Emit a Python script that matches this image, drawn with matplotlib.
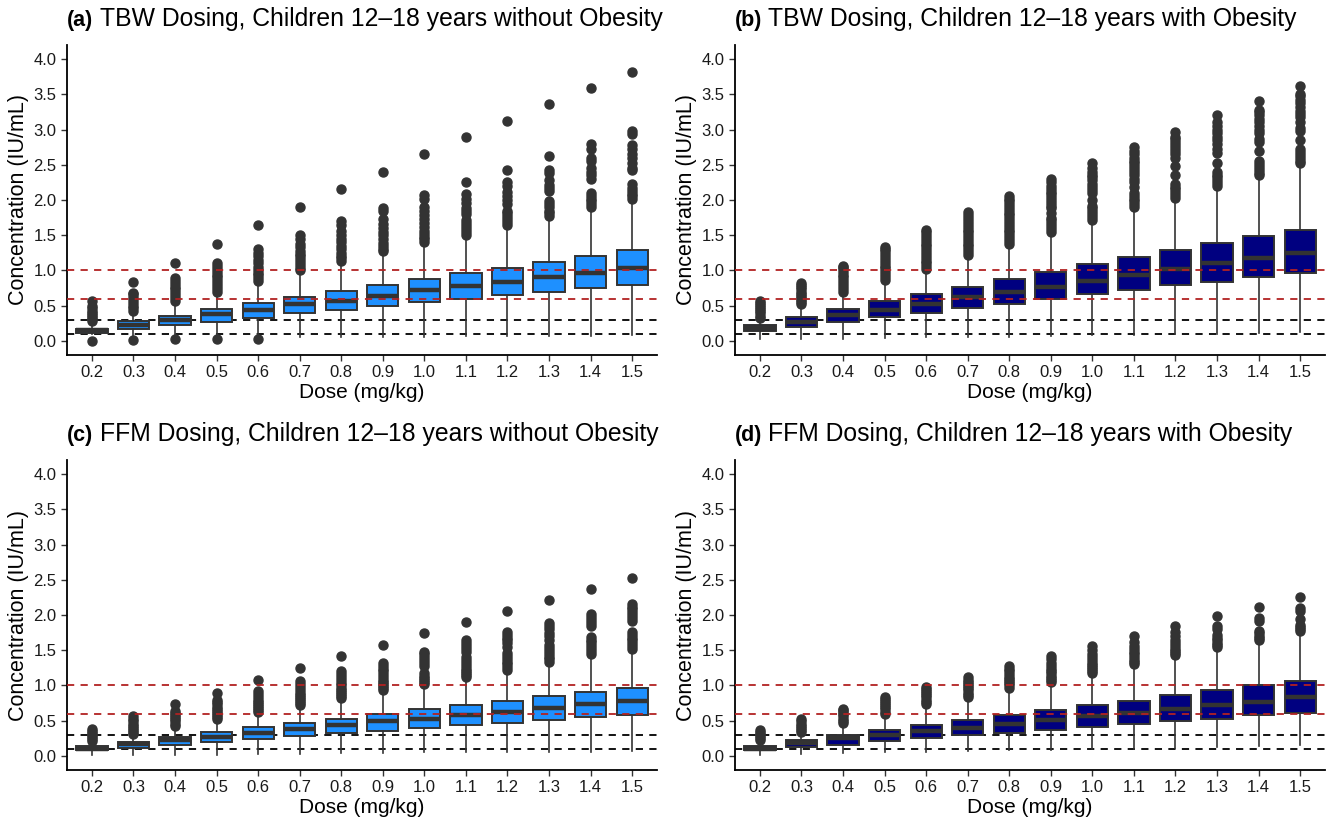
import matplotlib
matplotlib.use("Agg")
import matplotlib.pyplot as plt

plt.rcParams['font.family'] = ['Liberation Sans', 'DejaVu Sans']

# dawki (oś x)
doses = ["0.2", "0.3", "0.4", "0.5", "0.6", "0.7", "0.8", "0.9", "1.0", "1.1", "1.2", "1.3", "1.4", "1.5"]

# --- (a) TBW, bez otyłości ---
a_q1 = [0.11, 0.17, 0.22, 0.27, 0.33, 0.39, 0.44, 0.50, 0.55, 0.60, 0.65, 0.70, 0.75, 0.80]
a_med = [0.15, 0.23, 0.30, 0.38, 0.44, 0.52, 0.57, 0.64, 0.72, 0.78, 0.84, 0.91, 0.97, 1.03]
a_q3 = [0.17, 0.28, 0.36, 0.45, 0.54, 0.62, 0.71, 0.80, 0.88, 0.96, 1.04, 1.12, 1.21, 1.29]
a_lo = [0.10, 0.07, 0.06, 0.05, 0.05, 0.05, 0.05, 0.05, 0.06, 0.07, 0.07, 0.07, 0.07, 0.08]
a_hi = [0.26, 0.40, 0.55, 0.68, 0.83, 0.97, 1.10, 1.25, 1.38, 1.50, 1.63, 1.75, 1.88, 2.00]
a_out = [
    [0.0, 0.28, 0.31, 0.34, 0.37, 0.40, 0.43, 0.46, 0.50, 0.57],
    [0.01, 0.42, 0.46, 0.50, 0.54, 0.58, 0.62, 0.66, 0.68, 0.84],
    [0.02, 0.57, 0.61, 0.65, 0.69, 0.73, 0.77, 0.81, 0.85, 0.89, 1.11],
    [0.02, 0.70, 0.74, 0.78, 0.82, 0.86, 0.90, 0.94, 0.98, 1.02, 1.06, 1.10, 1.38],
    [0.03, 0.85, 0.89, 0.93, 0.97, 1.01, 1.05, 1.10, 1.15, 1.20, 1.25, 1.30, 1.64],
    [1.00, 1.04, 1.08, 1.12, 1.16, 1.20, 1.24, 1.28, 1.33, 1.38, 1.45, 1.50, 1.90],
    [1.13, 1.17, 1.21, 1.25, 1.30, 1.35, 1.40, 1.45, 1.50, 1.56, 1.65, 1.70, 2.15],
    [1.27, 1.31, 1.35, 1.39, 1.44, 1.50, 1.55, 1.60, 1.66, 1.73, 1.85, 1.88, 2.40],
    [1.40, 1.44, 1.48, 1.52, 1.56, 1.62, 1.67, 1.73, 1.78, 1.84, 1.90, 2.02, 2.07, 2.65],
    [1.51, 1.55, 1.59, 1.63, 1.67, 1.71, 1.80, 1.84, 1.88, 1.96, 2.02, 2.08, 2.25, 2.89],
    [1.65, 1.69, 1.73, 1.77, 1.81, 1.85, 1.95, 2.00, 2.06, 2.12, 2.20, 2.25, 2.43, 3.12],
    [1.77, 1.81, 1.85, 1.90, 1.94, 1.98, 2.13, 2.17, 2.21, 2.28, 2.38, 2.43, 2.62, 3.36],
    [1.90, 1.94, 1.98, 2.02, 2.06, 2.10, 2.30, 2.35, 2.40, 2.45, 2.55, 2.60, 2.72, 2.80, 3.59],
    [2.01, 2.05, 2.09, 2.13, 2.17, 2.22, 2.42, 2.46, 2.52, 2.60, 2.65, 2.72, 2.78, 2.93, 2.98, 3.82],
]

# --- (b) TBW, z otyłością ---
b_q1 = [0.14, 0.20, 0.27, 0.34, 0.40, 0.47, 0.53, 0.60, 0.66, 0.72, 0.79, 0.84, 0.90, 0.96]
b_med = [0.18, 0.27, 0.37, 0.44, 0.53, 0.62, 0.69, 0.77, 0.85, 0.94, 1.02, 1.10, 1.17, 1.25]
b_q3 = [0.23, 0.34, 0.45, 0.56, 0.67, 0.77, 0.88, 0.98, 1.09, 1.19, 1.29, 1.39, 1.49, 1.58]
b_lo = [0.02, 0.02, 0.03, 0.04, 0.05, 0.05, 0.06, 0.07, 0.08, 0.09, 0.10, 0.10, 0.11, 0.12]
b_hi = [0.31, 0.50, 0.68, 0.85, 1.00, 1.20, 1.37, 1.53, 1.70, 1.88, 2.02, 2.18, 2.33, 2.50]
b_out = [
    [0.33, 0.36, 0.39, 0.42, 0.45, 0.48, 0.51, 0.54, 0.57],
    [0.52, 0.55, 0.58, 0.61, 0.64, 0.67, 0.70, 0.73, 0.76, 0.79, 0.82],
    [0.70, 0.74, 0.78, 0.82, 0.86, 0.90, 0.94, 0.98, 1.02, 1.05, 1.07],
    [0.87, 0.91, 0.95, 0.99, 1.03, 1.07, 1.11, 1.15, 1.19, 1.23, 1.27, 1.30, 1.33],
    [1.02, 1.06, 1.10, 1.14, 1.18, 1.22, 1.26, 1.30, 1.34, 1.38, 1.42, 1.46, 1.50, 1.54, 1.58],
    [1.22, 1.26, 1.30, 1.34, 1.38, 1.42, 1.46, 1.50, 1.54, 1.58, 1.62, 1.66, 1.70, 1.74, 1.78, 1.83],
    [1.38, 1.42, 1.46, 1.50, 1.54, 1.58, 1.62, 1.66, 1.70, 1.74, 1.78, 1.82, 1.86, 1.90, 1.94, 1.98, 2.02, 2.06],
    [1.55, 1.59, 1.63, 1.67, 1.71, 1.75, 1.82, 1.88, 1.92, 1.96, 2.00, 2.04, 2.08, 2.12, 2.16, 2.20, 2.25, 2.30],
    [1.72, 1.76, 1.80, 1.84, 1.88, 1.92, 2.00, 2.10, 2.14, 2.18, 2.22, 2.28, 2.32, 2.36, 2.40, 2.45, 2.52],
    [1.90, 1.94, 1.98, 2.02, 2.06, 2.10, 2.18, 2.25, 2.30, 2.35, 2.40, 2.44, 2.48, 2.52, 2.56, 2.60, 2.65, 2.70, 2.75],
    [2.03, 2.07, 2.11, 2.15, 2.19, 2.23, 2.35, 2.48, 2.60, 2.65, 2.70, 2.74, 2.78, 2.82, 2.86, 2.90, 2.97],
    [2.20, 2.24, 2.28, 2.32, 2.36, 2.40, 2.52, 2.67, 2.72, 2.80, 2.85, 2.90, 2.95, 3.00, 3.05, 3.10, 3.20],
    [2.35, 2.39, 2.43, 2.47, 2.51, 2.55, 2.70, 2.82, 2.86, 2.95, 3.00, 3.05, 3.10, 3.15, 3.20, 3.25, 3.28, 3.40],
    [2.52, 2.56, 2.60, 2.64, 2.68, 2.72, 2.85, 2.98, 3.02, 3.10, 3.18, 3.22, 3.27, 3.32, 3.37, 3.42, 3.47, 3.50, 3.62],
]

# --- (c) FFM, bez otyłości ---
c_q1 = [0.08, 0.11, 0.16, 0.20, 0.24, 0.28, 0.32, 0.355, 0.40, 0.44, 0.47, 0.51, 0.55, 0.585]
c_med = [0.10, 0.17, 0.22, 0.27, 0.33, 0.38, 0.435, 0.49, 0.53, 0.58, 0.62, 0.68, 0.73, 0.78]
c_q3 = [0.14, 0.20, 0.27, 0.34, 0.41, 0.47, 0.53, 0.60, 0.66, 0.72, 0.785, 0.85, 0.91, 0.97]
c_lo = [0.01, 0.02, 0.02, 0.02, 0.03, 0.03, 0.04, 0.04, 0.05, 0.05, 0.05, 0.06, 0.06, 0.07]
c_hi = [0.20, 0.30, 0.42, 0.50, 0.60, 0.70, 0.80, 0.91, 1.00, 1.10, 1.20, 1.30, 1.42, 1.50]
c_out = [
    [0.21, 0.24, 0.27, 0.30, 0.33, 0.36, 0.38],
    [0.31, 0.34, 0.37, 0.40, 0.43, 0.46, 0.49, 0.52, 0.56],
    [0.43, 0.46, 0.49, 0.52, 0.55, 0.58, 0.61, 0.64, 0.73],
    [0.52, 0.55, 0.58, 0.61, 0.64, 0.67, 0.70, 0.73, 0.76, 0.79, 0.90],
    [0.62, 0.65, 0.68, 0.71, 0.74, 0.77, 0.80, 0.84, 0.88, 0.92, 1.08],
    [0.72, 0.75, 0.78, 0.81, 0.84, 0.87, 0.90, 0.94, 0.98, 1.02, 1.06, 1.25],
    [0.82, 0.85, 0.88, 0.91, 0.94, 0.97, 1.00, 1.04, 1.08, 1.12, 1.16, 1.20, 1.42],
    [0.93, 0.96, 0.99, 1.02, 1.05, 1.08, 1.12, 1.16, 1.20, 1.24, 1.28, 1.32, 1.58],
    [1.02, 1.05, 1.08, 1.11, 1.14, 1.17, 1.28, 1.32, 1.36, 1.40, 1.44, 1.48, 1.75],
    [1.12, 1.15, 1.18, 1.21, 1.24, 1.28, 1.32, 1.36, 1.40, 1.48, 1.52, 1.56, 1.60, 1.64, 1.90],
    [1.22, 1.26, 1.30, 1.34, 1.38, 1.42, 1.46, 1.55, 1.60, 1.64, 1.68, 1.72, 1.76, 2.06],
    [1.33, 1.37, 1.41, 1.45, 1.49, 1.53, 1.57, 1.65, 1.70, 1.75, 1.80, 1.84, 1.88, 2.22],
    [1.45, 1.49, 1.53, 1.57, 1.61, 1.65, 1.69, 1.85, 1.89, 1.93, 1.97, 2.01, 2.37],
    [1.52, 1.56, 1.60, 1.64, 1.68, 1.72, 1.76, 1.92, 1.96, 2.00, 2.04, 2.08, 2.12, 2.16, 2.52],
]

# --- (d) FFM, z otyłością ---
d_q1 = [0.08, 0.12, 0.16, 0.21, 0.25, 0.29, 0.33, 0.37, 0.41, 0.45, 0.49, 0.53, 0.575, 0.61]
d_med = [0.10, 0.18, 0.25, 0.29, 0.35, 0.40, 0.45, 0.51, 0.57, 0.61, 0.67, 0.72, 0.77, 0.83]
d_q3 = [0.14, 0.23, 0.30, 0.37, 0.44, 0.505, 0.58, 0.645, 0.72, 0.785, 0.86, 0.93, 1.00, 1.06]
d_lo = [0.01, 0.03, 0.04, 0.05, 0.06, 0.07, 0.08, 0.09, 0.10, 0.10, 0.11, 0.13, 0.14, 0.15]
d_hi = [0.20, 0.33, 0.46, 0.58, 0.72, 0.82, 0.95, 1.03, 1.15, 1.28, 1.42, 1.52, 1.62, 1.75]
d_out = [
    [0.22, 0.25, 0.28, 0.31, 0.34, 0.37],
    [0.34, 0.37, 0.40, 0.43, 0.46, 0.49, 0.52],
    [0.47, 0.50, 0.53, 0.56, 0.59, 0.62, 0.65, 0.67],
    [0.60, 0.63, 0.66, 0.69, 0.72, 0.75, 0.78, 0.81, 0.83],
    [0.74, 0.77, 0.80, 0.83, 0.86, 0.89, 0.92, 0.95, 0.98],
    [0.84, 0.87, 0.90, 0.93, 0.96, 0.99, 1.02, 1.05, 1.08, 1.12],
    [0.97, 1.00, 1.03, 1.06, 1.09, 1.12, 1.16, 1.20, 1.24, 1.27],
    [1.05, 1.08, 1.11, 1.14, 1.17, 1.20, 1.24, 1.28, 1.32, 1.38, 1.42],
    [1.17, 1.20, 1.23, 1.26, 1.29, 1.32, 1.36, 1.40, 1.44, 1.50, 1.56],
    [1.30, 1.33, 1.36, 1.40, 1.44, 1.48, 1.52, 1.56, 1.62, 1.70],
    [1.43, 1.46, 1.49, 1.52, 1.56, 1.60, 1.64, 1.70, 1.76, 1.84],
    [1.54, 1.57, 1.60, 1.64, 1.68, 1.72, 1.80, 1.84, 1.98],
    [1.64, 1.67, 1.70, 1.74, 1.78, 1.92, 1.96, 2.12],
    [1.77, 1.80, 1.83, 1.86, 1.94, 2.06, 2.10, 2.26],
]

titles = [
    ("(a)", "TBW Dosing, Children 12\u201318 years without Obesity"),
    ("(b)", "TBW Dosing, Children 12\u201318 years with Obesity"),
    ("(c)", "FFM Dosing, Children 12\u201318 years without Obesity"),
    ("(d)", "FFM Dosing, Children 12\u201318 years with Obesity"),
]
panels = [
    (a_q1, a_med, a_q3, a_lo, a_hi, a_out, "#1E90FF"),
    (b_q1, b_med, b_q3, b_lo, b_hi, b_out, "#000080"),
    (c_q1, c_med, c_q3, c_lo, c_hi, c_out, "#1E90FF"),
    (d_q1, d_med, d_q3, d_lo, d_hi, d_out, "#000080"),
]
red_lines = [0.6, 1.0]
black_lines = [0.1, 0.3]

# pozycje paneli w ułamkach figury
positions = [
    [0.0503, 0.5676, 0.443, 0.3776],
    [0.5518, 0.5676, 0.443, 0.3776],
    [0.0503, 0.0621, 0.443, 0.3776],
    [0.5518, 0.0621, 0.443, 0.3776],
]

fig = plt.figure(figsize=(13.32, 8.21), dpi=100)

for pos, (label, title), (q1, med, q3, lo, hi, out, fill) in zip(positions, titles, panels):
    ax = fig.add_axes(pos)
    stats = []
    for i in range(len(doses)):
        stats.append(dict(q1=q1[i], med=med[i], q3=q3[i], whislo=lo[i], whishi=hi[i],
                          fliers=out[i], label=doses[i]))
    ax.bxp(stats, positions=range(len(doses)), widths=0.75, patch_artist=True,
           boxprops=dict(facecolor=fill, edgecolor="#333333", linewidth=1.4),
           medianprops=dict(color="#333333", linewidth=3.2),
           whiskerprops=dict(color="#333333", linewidth=1.2),
           capprops=dict(linewidth=0),
           flierprops=dict(marker="o", markerfacecolor="#333333", markeredgecolor="#333333",
                           markersize=6.5, linestyle="none"),
           zorder=2)
    for y in black_lines:
        ax.axhline(y, color="black", linestyle=(0, (4, 3.5)), linewidth=1.3, zorder=1)
    for y in red_lines:
        ax.axhline(y, color="#B22222", linestyle=(0, (4, 3.5)), linewidth=1.3, zorder=3)

    ax.set_xlim(-0.6, len(doses) - 0.4)
    ax.set_ylim(-0.2, 4.2)
    ax.set_yticks([0.0, 0.5, 1.0, 1.5, 2.0, 2.5, 3.0, 3.5, 4.0])
    ax.set_yticklabels(["0.0", "0.5", "1.0", "1.5", "2.0", "2.5", "3.0", "3.5", "4.0"])
    ax.set_xticks(range(len(doses)))
    ax.set_xticklabels(doses)
    ax.tick_params(labelsize=12, colors="#333333", labelcolor="#1a1a1a", length=4, width=1)
    for side in ["top", "right"]:
        ax.spines[side].set_visible(False)
    for side in ["left", "bottom"]:
        ax.spines[side].set_linewidth(1.3)
    ax.set_xlabel("Dose (mg/kg)", fontsize=15, labelpad=2)
    ax.set_ylabel("Concentration (IU/mL)", fontsize=15.5, labelpad=3)

    ax.text(0.0, 1.045, label, transform=ax.transAxes, fontsize=15.5, fontweight="bold",
            ha="left", va="bottom")
    ax.text(0.056, 1.045, title, transform=ax.transAxes, fontsize=17.8,
            ha="left", va="bottom")

fig.savefig("out.png", dpi=100)
